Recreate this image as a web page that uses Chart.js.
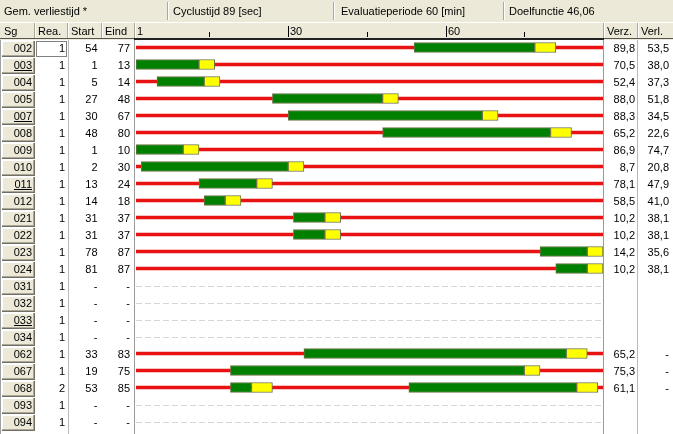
<!DOCTYPE html>
<html><head><meta charset="utf-8">
<script src="https://cdn.jsdelivr.net/npm/chart.js@4.4.1/dist/chart.umd.min.js"></script>
<style>html,body{margin:0;padding:0;background:#fff;overflow:hidden}canvas{display:block}</style>
</head><body>
<canvas id="c" width="673" height="434"></canvas>
<script>
// ---- data ----
const signalGroups = ['002','003','004','005','007','008','009','010','011','012','021','022','023','024','031','032','033','034','062','067','068','093','094'];
const underlinedGroups = ['003','007','011','033'];
const realisations = [1,1,1,1,1,1,1,1,1,1,1,1,1,1,1,1,1,1,1,1,2,1,1];
const greenStart = [54,1,5,27,30,48,1,2,13,14,31,31,78,81,null,null,null,null,33,19,53,null,null];
const greenEnd   = [77,13,14,48,67,80,10,30,24,18,37,37,87,87,null,null,null,null,83,75,85,null,null];
const amberTime  = [4,3,3,3,3,4,3,3,3,3,3,3,3,3,null,null,null,null,4,3,4,null,null];
// second realisation (only 068)
const greenStart2 = [null,null,null,null,null,null,null,null,null,null,null,null,null,null,null,null,null,null,null,null,19,null,null];
const greenEnd2   = [null,null,null,null,null,null,null,null,null,null,null,null,null,null,null,null,null,null,null,null,23,null,null];
const verz = [89.8,70.5,52.4,88.0,88.3,65.2,86.9,8.7,78.1,58.5,10.2,10.2,14.2,10.2,null,null,null,null,65.2,75.3,61.1,null,null];
const verl = [53.5,38.0,37.3,51.8,34.5,22.6,74.7,20.8,47.9,41.0,38.1,38.1,35.6,38.1,null,null,null,null,null,null,null,null,null];
const cycleFrom = 1, cycleTo = 90;
const statusTexts = ['Gem. verliestijd *','Cyclustijd 89 [sec]','Evaluatieperiode 60 [min]','Doelfunctie 46,06'];
const leftHeaders = ['Sg','Rea.','Start','Eind'];
const rightHeaders = ['Verz.','Verl.'];
const majorTicks = [30,60];
const minorTicks = [15,45,75];
const firstTickLabel = '1';

// ---- build datasets ----
const has = i => greenStart[i] !== null;
const redData = signalGroups.map((g,i)=> has(i) ? [cycleFrom, cycleTo] : null);
const greenData = signalGroups.map((g,i)=> has(i) ? [greenStart[i], greenEnd[i]] : null);
const amberData = signalGroups.map((g,i)=> has(i) ? [greenEnd[i], greenEnd[i]+amberTime[i]] : null);
const green2Data = signalGroups.map((g,i)=> greenStart2[i]!==null ? [greenStart2[i], greenEnd2[i]] : null);
const amber2Data = signalGroups.map((g,i)=> greenStart2[i]!==null ? [greenEnd2[i], greenEnd2[i]+amberTime[i]] : null);

const FONT = '11px "Liberation Sans", Arial, sans-serif';
const BEIGE = '#ECE9D8';
const fmt = v => v.toFixed(1).replace('.', ',');

function vsep(ctx, x, y1, y2){
  ctx.fillStyle = '#ACA899'; ctx.fillRect(x, y1, 1, y2-y1);
  ctx.fillStyle = '#FFFFFF'; ctx.fillRect(x+1, y1, 1, y2-y1);
}

const uiPlugin = {
  id: 'ui',
  beforeDatasetsDraw(chart){
    const ctx = chart.ctx, xs = chart.scales.x, ys = chart.scales.y;
    const W = chart.width, H = chart.height;
    ctx.save();
    // backgrounds
    ctx.fillStyle = '#FFFFFF'; ctx.fillRect(0,0,W,H);
    ctx.fillStyle = BEIGE; ctx.fillRect(0,0,W,40);
    // status bar
    ctx.font = FONT; ctx.fillStyle = '#000'; ctx.textBaseline = 'alphabetic';
    const statusX = [4, 173, 341, 509];
    const statusSep = [167, 333, 503];
    statusTexts.forEach((t,i)=>{ ctx.textAlign='left'; ctx.fillText(t, statusX[i], 15); });
    statusSep.forEach(x=> vsep(ctx, x, 2, 20));
    // header row
    ctx.fillStyle = '#FFFFFF'; ctx.fillRect(0,22,W,1);
    const hSep = [34, 67, 101, 134, 603, 637];
    hSep.forEach(x=> vsep(ctx, x, 23, 39));
    ctx.fillStyle = '#000';
    const hx = [4, 38, 71, 105];
    leftHeaders.forEach((t,i)=> ctx.fillText(t, hx[i], 35));
    ctx.fillText(rightHeaders[0], 607, 35);
    ctx.fillText(rightHeaders[1], 641, 35);
    // timeline header ticks
    ctx.fillText(firstTickLabel, xs.getPixelForValue(cycleFrom)+1, 35);
    majorTicks.forEach(v=>{
      const x = Math.round(xs.getPixelForValue(v));
      ctx.fillRect(x, 26, 1, 11);
      ctx.fillText(String(v), x+2, 35);
    });
    minorTicks.forEach(v=>{
      const x = Math.round(xs.getPixelForValue(v));
      ctx.fillRect(x, 32, 1, 5);
    });
    ctx.fillStyle = '#555'; ctx.fillRect(0, 38, W, 1);
    ctx.fillStyle = '#222'; ctx.fillRect(134, 38, 470, 2);
    // body vertical lines
    ctx.fillStyle = '#B8B8B8';
    ctx.fillRect(68, 40, 1, H-40);
    ctx.fillRect(637, 40, 1, H-40);
    ctx.fillStyle = '#9A9A9A';
    ctx.fillRect(134, 40, 1, H-40);
    ctx.fillRect(603, 40, 1, H-40);
    ctx.fillStyle = '#A0A0A0';
    ctx.fillRect(0, 40, 1, H-40);
    // rows
    signalGroups.forEach((g,i)=>{
      const cy = ys.getPixelForValue(i);
      const top = Math.round(cy - 7);
      // button
      ctx.fillStyle = BEIGE; ctx.fillRect(2, top, 32, 15);
      ctx.fillStyle = '#FFFFFF'; ctx.fillRect(2, top, 32, 1); ctx.fillRect(2, top, 1, 15);
      ctx.fillStyle = '#ACA899'; ctx.fillRect(2, top+14, 32, 1); ctx.fillRect(33, top, 1, 15);
      ctx.fillStyle = '#716F64'; ctx.fillRect(2, top+15, 33, 1); ctx.fillRect(34, top, 1, 16);
      ctx.fillStyle = '#000';
      ctx.textAlign = 'right';
      const base = Math.round(cy + 4);
      ctx.fillText(g, 32, base);
      if (underlinedGroups.includes(g)) {
        const w = ctx.measureText(g).width;
        ctx.fillRect(Math.round(32 - w), base+1, Math.round(w), 1);
      }
      ctx.fillText(String(realisations[i]), 65, base);
      ctx.fillText(has(i) ? String(greenStart[i]) : '-', 97.5, base);
      ctx.fillText(has(i) ? String(greenEnd[i]) : '-', 130, base);
      if (verz[i] !== null) ctx.fillText(fmt(verz[i]), 635, base);
      if (has(i)) ctx.fillText(verl[i] !== null ? fmt(verl[i]) : '-', 669, base);
      ctx.textAlign = 'left';
      if (!has(i)) {
        ctx.strokeStyle = '#D6D6D6'; ctx.lineWidth = 1; ctx.setLineDash([6,3]);
        ctx.beginPath();
        ctx.moveTo(chart.chartArea.left, Math.round(cy)+0.5);
        ctx.lineTo(chart.chartArea.right, Math.round(cy)+0.5);
        ctx.stroke(); ctx.setLineDash([]);
      }
    });
    // focus rectangle on first Rea. cell
    const cy0 = ys.getPixelForValue(0);
    ctx.strokeStyle = '#000'; ctx.lineWidth = 1; ctx.setLineDash([1,1]);
    ctx.strokeRect(36.5, Math.round(cy0-7)+0.5, 30, 15);
    ctx.setLineDash([]);
    ctx.restore();
  }
};

const common = { grouped:false, borderSkipped:false };
new Chart(document.getElementById('c'), {
  type: 'bar',
  data: {
    labels: signalGroups,
    datasets: [
      Object.assign({ label:'red', data: redData, backgroundColor:'#E81212', borderWidth:0, barThickness:3, order:5 }, common),
      Object.assign({ label:'green', data: greenData, backgroundColor:'#008000', borderColor:'#6E7248', borderWidth:1, barThickness:10, order:3 }, common),
      Object.assign({ label:'amber', data: amberData, backgroundColor:'#FFFF00', borderColor:'#6E7248', borderWidth:1, barThickness:10, order:2 }, common),
      Object.assign({ label:'green2', data: green2Data, backgroundColor:'#008000', borderColor:'#6E7248', borderWidth:1, barThickness:10, order:3 }, common),
      Object.assign({ label:'amber2', data: amber2Data, backgroundColor:'#FFFF00', borderColor:'#6E7248', borderWidth:1, barThickness:10, order:2 }, common)
    ]
  },
  options: {
    indexAxis: 'y',
    responsive: false,
    animation: false,
    devicePixelRatio: 1,
    layout: { padding: { left:136, right:70, top:39, bottom:4 } },
    scales: {
      x: { type:'linear', min:cycleFrom, max:cycleTo, display:false },
      y: { type:'category', display:false, offset:true }
    },
    plugins: { legend:{display:false}, tooltip:{enabled:false} }
  },
  plugins: [uiPlugin]
});
</script>
</body></html>
